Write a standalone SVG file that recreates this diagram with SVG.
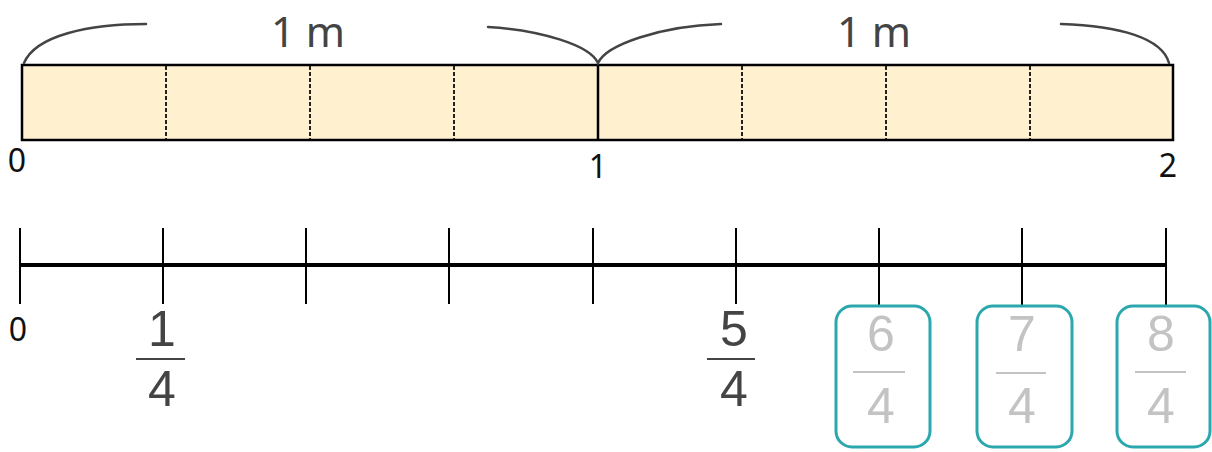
<svg xmlns="http://www.w3.org/2000/svg" width="1212" height="452" viewBox="0 0 1212 452">
<style>
.bar{fill:#FFF0CF;stroke:#000;stroke-width:2.5}
.dash{stroke:#222;stroke-width:2;stroke-dasharray:4 2}
.solid{stroke:#000;stroke-width:2.5}
.brace{fill:none;stroke:#444;stroke-width:2.5;stroke-linecap:round}
.lbl{font-family:"Noto Sans","Liberation Sans",sans-serif;fill:#444;font-size:42px;text-anchor:middle}
.num{font-family:"Noto Sans","Liberation Sans",sans-serif;fill:#111;font-size:32px;text-anchor:middle}
.fr{font-family:"Liberation Sans",sans-serif;fill:#444;font-size:50px;text-anchor:middle}
.frg{font-family:"Liberation Sans",sans-serif;fill:#C3C3C3;font-size:50px;text-anchor:middle}
.axis{stroke:#000;stroke-width:4}
.tick{stroke:#000;stroke-width:2}
.box{fill:#fff;stroke:#2BA7AD;stroke-width:3}
</style>
<g id="tape">
<rect class="bar" x="22" y="65" width="1151" height="75"/>
<line class="dash" x1="166" y1="66" x2="166" y2="139"/>
<line class="dash" x1="310" y1="66" x2="310" y2="139"/>
<line class="dash" x1="454" y1="66" x2="454" y2="139"/>
<line class="solid" x1="598" y1="65" x2="598" y2="140"/>
<line class="dash" x1="742" y1="66" x2="742" y2="139"/>
<line class="dash" x1="886" y1="66" x2="886" y2="139"/>
<line class="dash" x1="1030" y1="66" x2="1030" y2="139"/>
</g>
<g id="braces">
<path class="brace" d="M24 63 C36 35 90 24 146 24"/>
<path class="brace" d="M488 27 C540 30 590 45 598 63 C606 45 660 26 721 24"/>
<path class="brace" d="M1061 24 C1120 26 1162 38 1169 63"/>
<text class="lbl" x="308" y="47">1 m</text>
<text class="lbl" x="874" y="47">1 m</text>
</g>
<g id="tape-labels">
<text class="num" x="17" y="172">0</text>
<text class="num" x="598" y="178">1</text>
<text class="num" x="1168" y="177">2</text>
</g>
<g id="numberline">
<line class="axis" x1="20" y1="265" x2="1167" y2="265"/>
<line class="tick" x1="20" y1="228" x2="20" y2="304"/>
<line class="tick" x1="163" y1="228" x2="163" y2="304"/>
<line class="tick" x1="306" y1="228" x2="306" y2="304"/>
<line class="tick" x1="449" y1="228" x2="449" y2="304"/>
<line class="tick" x1="593" y1="228" x2="593" y2="304"/>
<line class="tick" x1="736" y1="228" x2="736" y2="304"/>
<line class="tick" x1="879" y1="228" x2="879" y2="306"/>
<line class="tick" x1="1022" y1="228" x2="1022" y2="306"/>
<line class="tick" x1="1166" y1="228" x2="1166" y2="306"/>
</g>
<g id="label-0"><text class="num" x="18" y="341">0</text></g>
<g id="label-1-4">
<text class="fr" x="162" y="346">1</text>
<line x1="136" y1="359" x2="185" y2="359" stroke="#444" stroke-width="2"/>
<text class="fr" x="162" y="406">4</text>
</g>
<g id="label-5-4">
<text class="fr" x="734" y="346">5</text>
<line x1="707" y1="359" x2="755" y2="359" stroke="#444" stroke-width="2"/>
<text class="fr" x="734" y="406">4</text>
</g>
<g id="box-6-4">
<rect class="box" x="836" y="306" width="94" height="141" rx="16"/>
<text class="frg" x="881" y="351">6</text>
<line x1="853" y1="372" x2="905" y2="372" stroke="#C3C3C3" stroke-width="2"/>
<text class="frg" x="881" y="423">4</text>
</g>
<g id="box-7-4">
<rect class="box" x="977" y="306" width="95" height="141" rx="16"/>
<text class="frg" x="1022" y="351">7</text>
<line x1="996" y1="373" x2="1046" y2="373" stroke="#C3C3C3" stroke-width="2"/>
<text class="frg" x="1022" y="423">4</text>
</g>
<g id="box-8-4">
<rect class="box" x="1117" y="306" width="93" height="141" rx="16"/>
<text class="frg" x="1161" y="351">8</text>
<line x1="1135" y1="372" x2="1186" y2="372" stroke="#C3C3C3" stroke-width="2"/>
<text class="frg" x="1161" y="423">4</text>
</g>
</svg>
